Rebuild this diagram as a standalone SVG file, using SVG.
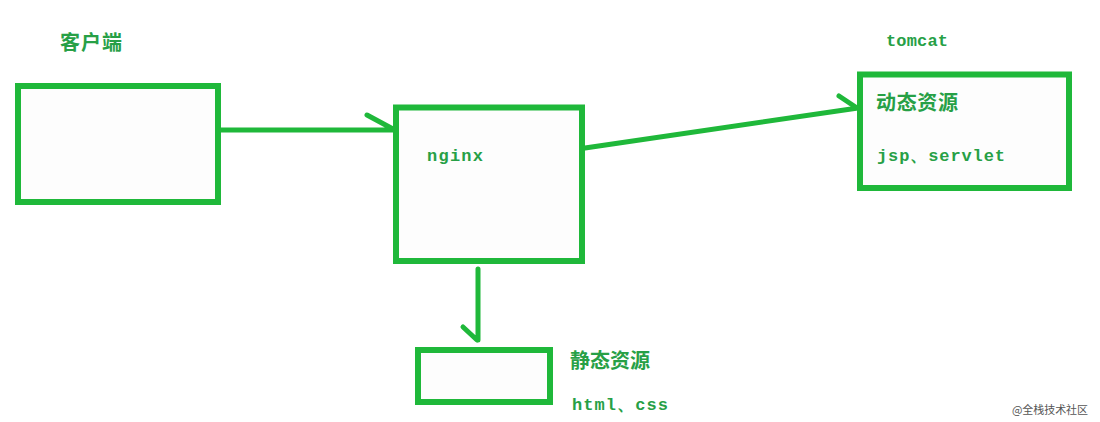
<svg xmlns="http://www.w3.org/2000/svg" width="1100" height="422" viewBox="0 0 1100 422">
<style>
.box{fill:#fdfdfd;stroke:#1fb83a;stroke-width:6}
.ln{fill:none;stroke:#1fb83a;stroke-width:5;stroke-linecap:round;stroke-linejoin:round}
.cn{font-family:"Noto Sans CJK SC","Noto Sans",sans-serif;font-size:20px;font-weight:bold;fill:#27a046}
.en{font-family:"Liberation Mono","DejaVu Sans Mono",monospace;font-size:17px;font-weight:bold;fill:#27a046}
.wm{font-family:"Noto Sans CJK SC",sans-serif;font-size:11px;fill:#555}
</style>
<rect width="1100" height="422" fill="#ffffff"/>
<g id="client">
<rect class="box" x="18" y="86" width="200" height="116"/>
<text class="cn" x="60" y="50" textLength="62">客户端</text>
</g>
<g id="nginx">
<rect class="box" x="396" y="107.5" width="186" height="153.5"/>
<text class="en" x="427" y="161" textLength="56">nginx</text>
</g>
<g id="tomcat">
<rect class="box" x="860" y="74.5" width="209" height="113.5"/>
<text class="en" x="886" y="46" textLength="62">tomcat</text>
<text class="cn" x="876" y="110" textLength="82">动态资源</text>
<text class="en" x="877" y="161" textLength="128">jsp、servlet</text>
</g>
<g id="static">
<rect class="box" x="418" y="350" width="132" height="52"/>
<text class="cn" x="570" y="368" textLength="80">静态资源</text>
<text class="en" x="572" y="410" textLength="96">html、css</text>
</g>
<g id="connectors">
<path class="ln" d="M221,130 L394,130 M367,115 L393,129"/>
<path class="ln" d="M585,148 L858,108 M839,96 L857,108"/>
<path class="ln" d="M478,269 L478,340 M463,327 L477,340"/>
</g>
<text class="wm" x="1012" y="414" textLength="76">@全栈技术社区</text>
</svg>
